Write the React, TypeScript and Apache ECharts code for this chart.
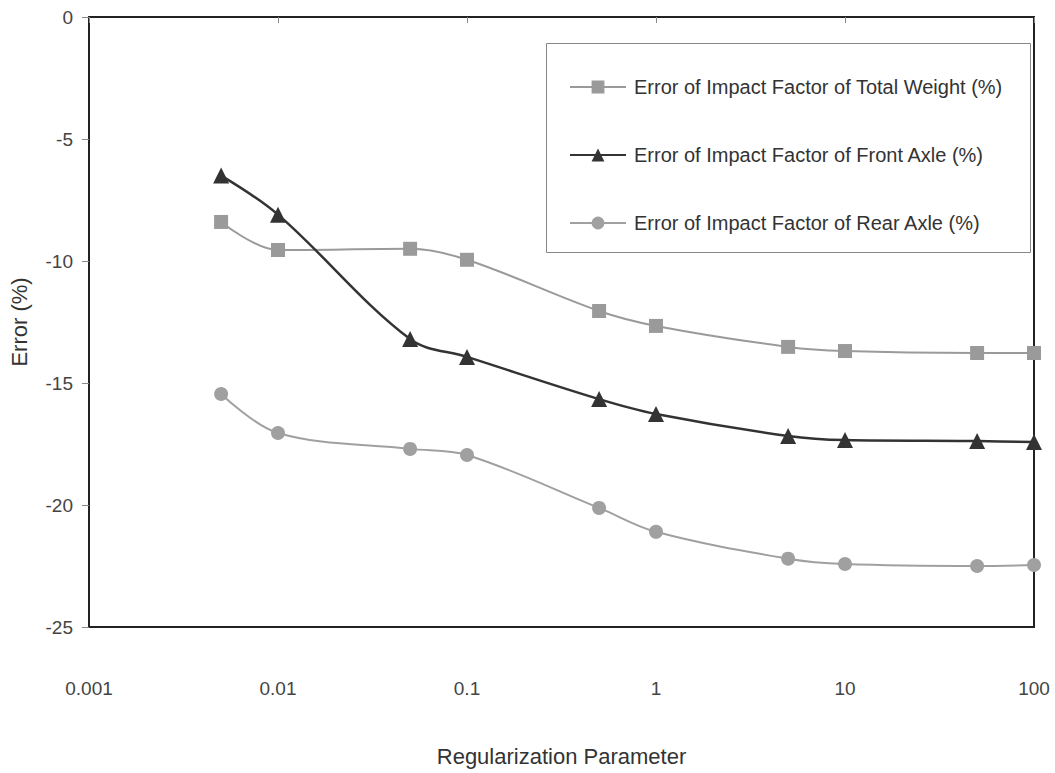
import React, { useEffect, useRef } from "react";
import * as echarts from "echarts";

const xValues = [0.005, 0.01, 0.05, 0.1, 0.5, 1, 5, 10, 50, 100];
const totalWeight = [-8.4, -9.55, -9.5, -9.95, -12.05, -12.66, -13.52, -13.69, -13.77, -13.77];
const frontAxle = [-6.5, -8.1, -13.2, -13.93, -15.66, -16.27, -17.17, -17.34, -17.38, -17.42];
const rearAxle = [-15.45, -17.05, -17.7, -17.95, -20.12, -21.1, -22.2, -22.42, -22.5, -22.46];
const seriesNames = [
  "Error of Impact Factor of Total Weight (%)",
  "Error of Impact Factor of Front Axle (%)",
  "Error of Impact Factor of Rear Axle (%)",
];

const FONT = "'Liberation Sans', Arial, sans-serif";

export default function App() {
  const ref = useRef<HTMLDivElement>(null);
  useEffect(() => {
    document.body.style.margin = "0";
    if (!ref.current) return;
    const chart = echarts.init(ref.current, undefined, { renderer: "svg" });
    const mk = (vals: number[]) => xValues.map((x, i) => [x, vals[i]]);
    chart.setOption({
      animation: false,
      backgroundColor: "#ffffff",
      textStyle: { fontFamily: FONT },
      grid: {
        left: 89,
        right: 21,
        top: 17,
        bottom: 146,
        containLabel: false,
        outerBoundsMode: "none",
        show: true,
        borderColor: "#222",
        borderWidth: 2,
        backgroundColor: "transparent",
      },
      graphic: [
        {
          type: "rect",
          left: 546,
          top: 43,
          shape: { width: 484, height: 209 },
          style: { fill: "#fff", stroke: "#888", lineWidth: 1 },
          z: 5,
        },
      ],
      legend: {
        orient: "vertical",
        left: 564,
        top: 72,
        itemWidth: 56,
        itemHeight: 16,
        itemGap: 48,
        z: 10,
        textStyle: {
          fontSize: 20,
          lineHeight: 20,
          color: "#333",
          fontFamily: FONT,
          padding: [0, 0, 0, 3],
        },
        data: seriesNames,
      },
      xAxis: {
        type: "log",
        logBase: 10,
        min: 0.001,
        max: 100,
        name: "Regularization Parameter",
        nameLocation: "middle",
        nameGap: 118,
        nameTextStyle: { fontSize: 22, color: "#333", fontFamily: FONT },
        axisLine: { show: true, lineStyle: { color: "#222", width: 2 } },
        axisTick: { show: true, inside: false, length: 6, lineStyle: { color: "#888" } },
        minorTick: { show: false },
        splitLine: { show: false },
        axisLabel: {
          fontSize: 19,
          color: "#444",
          margin: 52,
          fontFamily: FONT,
          formatter: (v: number) => String(Number(v.toPrecision(6))),
        },
      },
      yAxis: {
        type: "value",
        min: -25,
        max: 0,
        interval: 5,
        name: "Error (%)",
        nameLocation: "middle",
        nameGap: 59,
        nameRotate: 90,
        nameTextStyle: { fontSize: 22, color: "#333", fontFamily: FONT },
        axisLine: { show: true, lineStyle: { color: "#222", width: 2 } },
        axisTick: { show: true, inside: false, length: 7, lineStyle: { color: "#888" } },
        splitLine: { show: false },
        axisLabel: { fontSize: 19, color: "#444", margin: 16, fontFamily: FONT },
      },
      series: [
        {
          name: seriesNames[0],
          type: "line",
          data: mk(totalWeight),
          smooth: 0.35,
          symbol: "rect",
          symbolSize: 14,
          itemStyle: { color: "#9a9a9a" },
          lineStyle: { color: "#9a9a9a", width: 2 },
          z: 3,
        },
        {
          name: seriesNames[1],
          type: "line",
          data: mk(frontAxle),
          smooth: 0.35,
          symbol: "triangle",
          symbolSize: 16,
          itemStyle: { color: "#333333" },
          lineStyle: { color: "#333333", width: 2.5 },
          z: 4,
        },
        {
          name: seriesNames[2],
          type: "line",
          data: mk(rearAxle),
          smooth: 0.35,
          symbol: "circle",
          symbolSize: 14,
          itemStyle: { color: "#a0a0a0" },
          lineStyle: { color: "#a0a0a0", width: 2 },
          z: 3,
        },
      ],
    });
    return () => chart.dispose();
  }, []);
  return <div ref={ref} style={{ width: 1055, height: 773 }} />;
}
